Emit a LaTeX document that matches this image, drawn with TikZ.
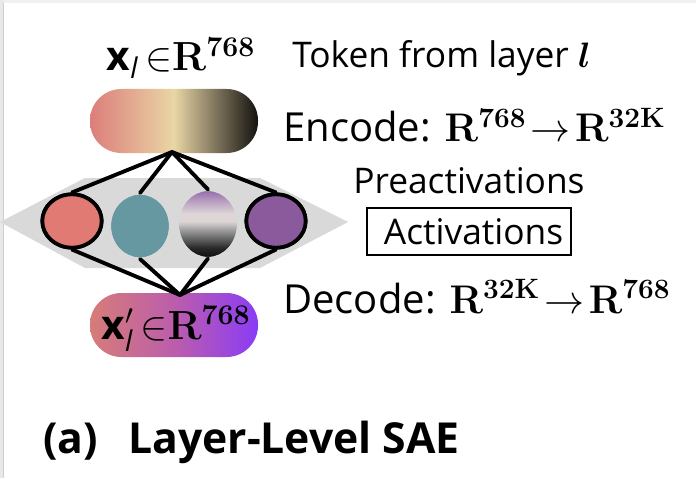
\RequirePackage{fix-cm}
\documentclass[tikz,border=0pt]{standalone}
\usepackage{amsmath}
\usepackage{bm}
\usepackage[no-math]{fontspec}
\setmainfont{Open Sans}
\newfontfamily\capfont{Open Sans}
\usepackage{tikz}
\usepackage{xcolor}
\usetikzlibrary{shapes.geometric}
\definecolor{FrameTop}   {HTML}{F0F0F0}
\definecolor{FrameSide}  {HTML}{E8E8E8}
\definecolor{FrameLine}  {HTML}{CFCFCF}
\definecolor{HexGray}    {HTML}{D9D9D9}
\definecolor{InL}        {HTML}{DC7E7A}
\definecolor{InM}        {HTML}{E9D6A6}
\definecolor{InR}        {HTML}{141210}
\definecolor{OutL}       {HTML}{D67C78}
\definecolor{OutM}       {HTML}{BC5DAC}
\definecolor{OutR}       {HTML}{8A3CF6}
\definecolor{CellPink}   {HTML}{E07A73}
\definecolor{CellTeal}   {HTML}{6698A1}
\definecolor{CellPurple} {HTML}{8B5A9C}
\definecolor{CellLilac}  {HTML}{9A6FAC}
\definecolor{CellHaze}   {HTML}{B79CC0}
\definecolor{CellMist}   {HTML}{DDD5D6}
\definecolor{CellGray}   {HTML}{999999}
\definecolor{CellDark}   {HTML}{2A2A2A}
\definecolor{CellInk}    {HTML}{0E0E0E}
\pgfdeclareverticalshading{cellshade}{100bp}{%
  color(0bp)=(CellInk); color(25bp)=(CellInk); color(32bp)=(CellDark);
  color(45bp)=(CellGray); color(52bp)=(CellMist); color(58bp)=(CellMist);
  color(68bp)=(CellHaze); color(75bp)=(CellLilac); color(100bp)=(CellLilac)}
\tikzset{
  pill/.style={
    rectangle, rounded corners=23.6pt,
    minimum width=126pt, minimum height=48pt, inner sep=0pt,
  },
  inpill/.style ={pill, left color=InL,  right color=InR,  middle color=InM},
  outpill/.style={pill, left color=OutL, right color=OutR, middle color=OutM},
  cell/.style={
    ellipse, inner sep=0pt, line width=2.8pt,
    minimum width=44.5pt, minimum height=40pt,
  },
  bigcell/.style={cell, minimum width=43pt, minimum height=46.7pt},
  wire/.style={line width=2.9pt, line cap=round},
  mathlbl/.style={inner sep=0pt, font=\fontsize{30.5}{36}\selectfont},
  txt/.style={inner sep=0pt, anchor=base west},
  bigtxt/.style={txt, font=\fontsize{30}{36}\selectfont},
  midtxt/.style={txt, font=\fontsize{26.5}{31}\selectfont},
  captxt/.style={txt, font=\fontsize{32}{38}\selectfont\capfont\bfseries},
}
\newcommand{\Rv}[1]{\mathbf{R}^{\mathbf{#1}}}
\newcommand{\maps}{\mskip2mu{\rightarrow}\mskip2mu}

\begin{document}
\begin{tikzpicture}[x=0.75pt, y=-0.75pt]
\useasboundingbox (0,0) rectangle (696,478);

% ── Frame ─────────────────────────────────────────────────────────────────
\fill[white] (0,0) rectangle (696,478);
\fill[FrameTop] (0,0) rectangle (696,3);
\fill[FrameSide] (0,0) rectangle (4,478);
\draw[FrameLine, line width=0.6pt] (3,3) -- (3,478);

% ── Latent band ───────────────────────────────────────────────────────────
\fill[HexGray] (0,222) -- (85,178) -- (260,178) -- (348,222)
  -- (260,268) -- (85,268) -- cycle;

% ── Nodes ─────────────────────────────────────────────────────────────────
\node[inpill]  (IN)  at (174,121) {};
\node[outpill] (OUT) at (174,325) {};
\node[cell, draw, fill=CellPink]          (C1) at ( 72,221) {};
\node[bigcell, fill=CellTeal]             (C2) at (140,226) {};
\node[bigcell, shade, shading=cellshade,
      minimum height=49pt]                (C3) at (208,224) {};
\node[cell, draw, fill=CellPurple]        (C4) at (276,221) {};

% fan-out / fan-in points sit a little off the pill centres
\coordinate (FORK) at (172,152);
\coordinate (JOIN) at (180,295);

% ── Wires ─────────────────────────────────────────────────────────────────
\foreach \c in {C1,C2,C3,C4} {
  \draw[wire] (FORK) -- (\c.north);
  \draw[wire] (\c.south) -- (JOIN);
}
% redraw cells on top so wire ends tuck under them
\node[cell, draw, fill=CellPink]          at ( 72,221) {};
\node[bigcell, fill=CellTeal]             at (140,226) {};
\node[bigcell, shade, shading=cellshade,
      minimum height=49pt]                at (208,224) {};
\node[cell, draw, fill=CellPurple]        at (276,221) {};

% ── Labels ────────────────────────────────────────────────────────────────
\node[mathlbl, anchor=base] (XIN) at (181,71)
  {$\textbf{x}_{\textit{l}}\,{\in}\Rv{768}$};
\node[mathlbl, anchor=base] (XOUT) at (176,339)
  {$\textbf{x}'_{\textit{l}}\,{\in}\Rv{768}$};

\node[midtxt] (TOK) at (292,68) {Token from layer $\bm{l}$};
\node[bigtxt] (ENC) at (283,142)
  {Encode: $\Rv{768}\maps\Rv{32K}$};
\node[midtxt] (PRE) at (353,193) {Preactivations};
\node[draw, line width=1.8pt, inner sep=0pt,
      minimum width=153pt, minimum height=35.5pt,
      font=\fontsize{26.5}{31}\selectfont] (ACT) at (469,231.5) {\ Activations};
\node[bigtxt] (DEC) at (283,313)
  {Decode: $\Rv{32K}\maps\Rv{768}$};

% ── Caption ───────────────────────────────────────────────────────────────
\node[captxt] (TAG)   at ( 43,453) {(a)};
\node[captxt] (TITLE) at (128,453) {Layer-Level SAE};

\end{tikzpicture}
\end{document}
